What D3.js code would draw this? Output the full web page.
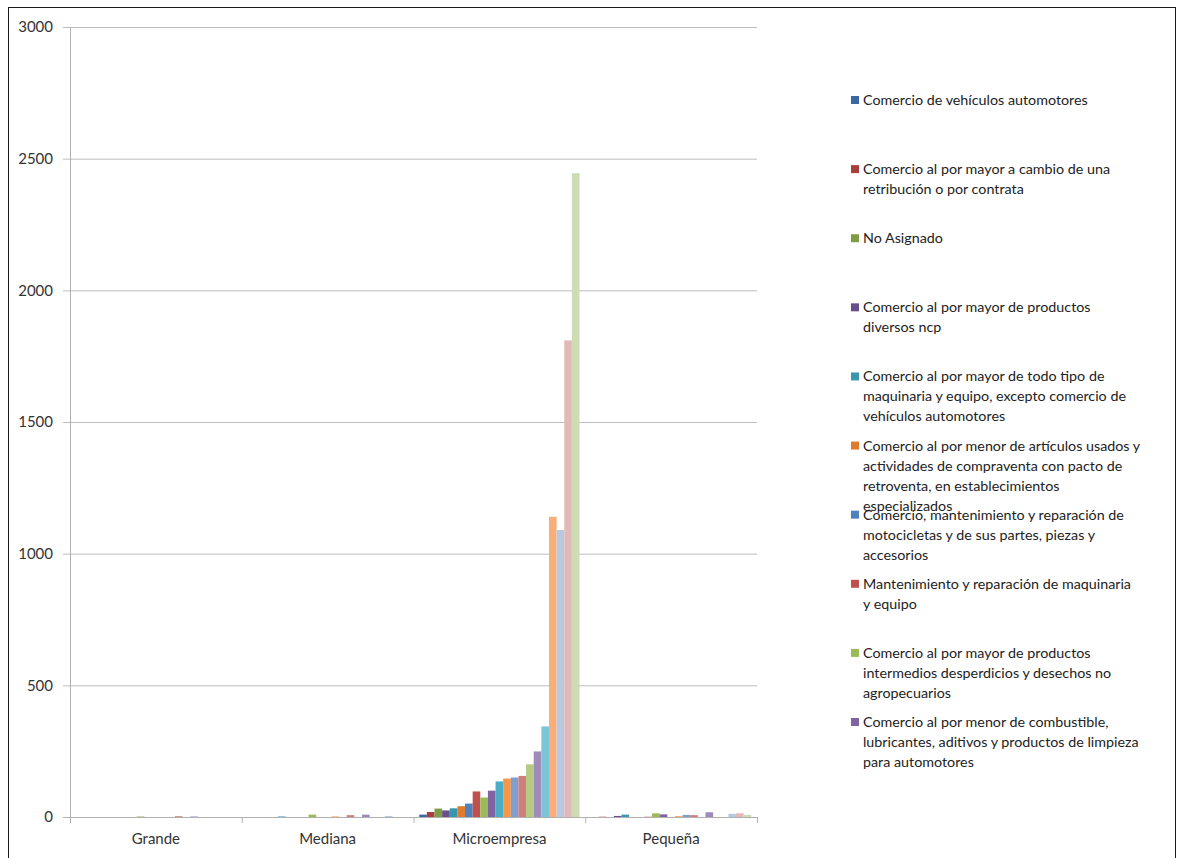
<!DOCTYPE html>
<html>
<head>
<meta charset="utf-8">
<script src="https://cdn.jsdelivr.net/npm/d3@7"></script>
<style>
  body { margin: 0; background: #fff; }
  svg { display: block; font-family: Lato, "Open Sans", sans-serif; }
</style>
</head>
<body>
<svg id="chart" width="1183" height="858"></svg>
<script>
// categories (x axis)
const categories = ["Grande", "Mediana", "Microempresa", "Pequeña"];

// one value per series (21 series) for each category
const grande       = [0, 0, 0, 0, 0, 0, 0, 0, 2, 0, 0, 0, 0, 3, 0, 2, 0, 0, 0, 0, 0];
const mediana      = [0, 0, 0, 0, 2, 0, 0, 0, 9, 0, 0, 2, 0, 7, 0, 9, 0, 0, 4, 0, 0];
const microempresa = [9, 19, 32, 25, 33, 41, 51, 97, 74, 100, 135, 146, 150, 156, 200, 249, 344, 1140, 1090, 1810, 2445];
const pequena      = [0, 1, 0, 4, 9, 0, 0, 1, 14, 10, 0, 3, 8, 7, 0, 18, 0, 0, 12, 14, 8];

const yTicks = [0, 500, 1000, 1500, 2000, 2500, 3000];

// series colours (Excel 2007 style: dark, base, light, lightest)
const colors = [
  "#3A68A4", "#A83E3B", "#7F9C45", "#684F8A", "#3896AE", "#E07B2E",
  "#4F81BD", "#C0504D", "#9BBB59", "#8064A2", "#4BACC6", "#F79646",
  "#7F9FCF", "#CF7E7B", "#B3CC81", "#9F8BBA", "#7CC4D8", "#F9AE78",
  "#B9C9E1", "#E2B9B8", "#CDDCB3"
];

// legend (only the first ten series fit in the legend box)
const legendLabels = [
  ["Comercio de vehículos automotores"],
  ["Comercio al por mayor a cambio de una", "retribución o por contrata"],
  ["No Asignado"],
  ["Comercio al por mayor de productos", "diversos ncp"],
  ["Comercio al por mayor de todo tipo de", "maquinaria y equipo, excepto comercio de", "vehículos automotores"],
  ["Comercio al por menor de artículos usados y", "actividades de compraventa con pacto de", "retroventa, en establecimientos", "especializados"],
  ["Comercio, mantenimiento y reparación de", "motocicletas y de sus partes, piezas y", "accesorios"],
  ["Mantenimiento y reparación de maquinaria", "y equipo"],
  ["Comercio al por mayor de productos", "intermedios desperdicios y desechos no", "agropecuarios"],
  ["Comercio al por menor de combustible,", "lubricantes, aditivos y productos de limpieza", "para automotores"]
];

const valuesByCategory = [grande, mediana, microempresa, pequena];
const seriesIdx = d3.range(microempresa.length);

const svg = d3.select("#chart");

// outer chart frame
svg.append("rect")
  .attr("x", 8.5).attr("y", 7.5)
  .attr("width", 1167).attr("height", 870)
  .attr("fill", "none").attr("stroke", "#1a1a1a").attr("stroke-width", 1);

const plot = { left: 70, right: 757, top: 27, bottom: 817 };

const x = d3.scaleBand()
  .domain(categories)
  .range([plot.left, plot.right])
  .padding(0);

const xs = d3.scaleBand()
  .domain(seriesIdx)
  .range([0, x.bandwidth()])
  .paddingInner(0)
  .paddingOuter(0.75);

const y = d3.scaleLinear()
  .domain([0, 3000])
  .range([plot.bottom, plot.top]);

// gridlines + y axis
const yAxis = svg.append("g")
  .attr("transform", `translate(${plot.left},0)`)
  .call(d3.axisLeft(y).tickValues(yTicks).tickFormat(d3.format("d")).tickSize(7).tickPadding(10));
yAxis.select(".domain").remove();
yAxis.selectAll(".tick line").attr("stroke", "#bdbdbd");
yAxis.selectAll(".tick text")
  .attr("fill", "#333").attr("font-size", 15)
  .attr("font-family", "Lato, sans-serif");

svg.append("g")
  .selectAll("line")
  .data(yTicks.filter(d => d > 0))
  .join("line")
  .attr("x1", plot.left).attr("x2", plot.right)
  .attr("y1", d => y(d) + 0.5).attr("y2", d => y(d) + 0.5)
  .attr("stroke", "#bdbdbd");

// bars
svg.append("g")
  .selectAll("g")
  .data(categories)
  .join("g")
  .attr("transform", d => `translate(${x(d)},0)`)
  .selectAll("rect")
  .data((c, ci) => seriesIdx.map(i => ({ i, v: valuesByCategory[ci][i] })))
  .join("rect")
  .attr("x", d => xs(d.i))
  .attr("width", xs.bandwidth())
  .attr("y", d => y(d.v))
  .attr("height", d => y(0) - y(d.v))
  .attr("fill", d => colors[d.i]);

// y axis line
svg.append("line")
  .attr("x1", plot.left + 0.5).attr("x2", plot.left + 0.5)
  .attr("y1", plot.top).attr("y2", plot.bottom + 5)
  .attr("stroke", "#b0b0b0");

// x axis
const xAxis = svg.append("g")
  .attr("transform", `translate(0,${plot.bottom + 0.5})`)
  .call(d3.axisBottom(x).tickSize(0).tickPadding(16));
xAxis.select(".domain").remove();
xAxis.selectAll(".tick text")
  .attr("fill", "#333").attr("font-size", 15)
  .attr("font-family", "Lato, sans-serif");

svg.append("line")
  .attr("x1", plot.left - 7).attr("x2", plot.right)
  .attr("y1", plot.bottom + 0.5).attr("y2", plot.bottom + 0.5)
  .attr("stroke", "#b0b0b0");

svg.append("g")
  .selectAll("line")
  .data(categories.map(c => x(c)).concat([plot.right]))
  .join("line")
  .attr("x1", d => d + 0.5).attr("x2", d => d + 0.5)
  .attr("y1", plot.bottom).attr("y2", plot.bottom + 6)
  .attr("stroke", "#b0b0b0");

// legend
const legendY = d3.scaleLinear().domain([0, 9]).range([100, 722]);
const legend = svg.append("g")
  .selectAll("g")
  .data(legendLabels)
  .join("g")
  .attr("transform", (d, i) => `translate(851,${legendY(i)})`);

legend.append("rect")
  .attr("x", 0).attr("y", -4)
  .attr("width", 8).attr("height", 8)
  .attr("fill", (d, i) => colors[i]);

legend.append("text")
  .attr("x", 12)
  .attr("fill", "#222")
  .attr("font-size", 14.3)
  .selectAll("tspan")
  .data(d => d)
  .join("tspan")
  .attr("x", 12)
  .attr("y", (d, j) => j * 20)
  .attr("dy", "0.35em")
  .text(d => d);
</script>
</body>
</html>
